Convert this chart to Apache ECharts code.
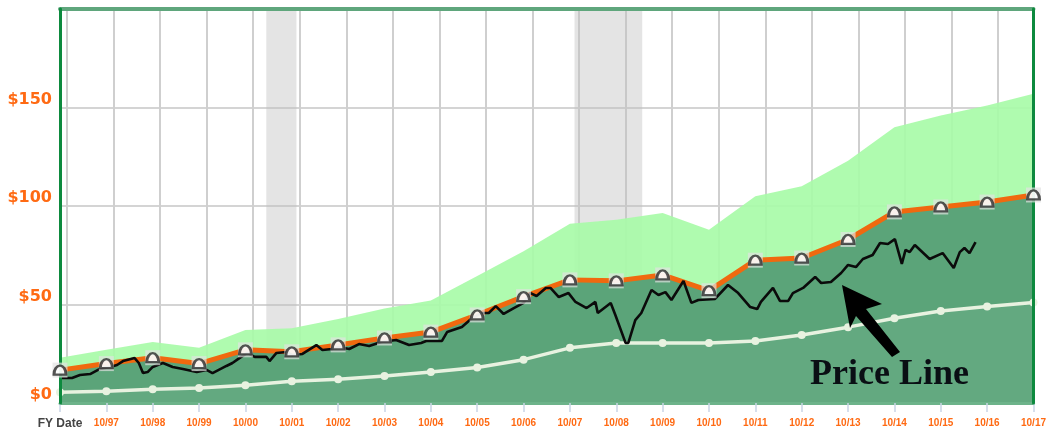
<!DOCTYPE html>
<html><head><meta charset="utf-8">
<style>html,body{margin:0;padding:0;background:#fff}#c{width:1049px;height:439px;filter:blur(0.5px)}</style>
<script src="https://cdn.jsdelivr.net/npm/echarts@6/dist/echarts.min.js"></script>
</head><body><div id="c"></div>
<script>
const tickLabels=['FY Date','10/97','10/98','10/99','10/00','10/01','10/02','10/03','10/04','10/05','10/06','10/07','10/08','10/09','10/10','10/11','10/12','10/13','10/14','10/15','10/16','10/17'];
const yearIndex=[0,1,2,3,4,5,6,7,8,9,10,11,12,13,14,15,16,17,18,19,20,21];
const upperBand=[23,27,31,28,37,38,42.6,48,52,64.5,77,91,93,96.5,88,105,110,123,140,146,151,157];
const fairValue=[16.7,20,23,20,27,26,29.5,33,36,44.7,54,62.5,62,65,57,72.5,73.6,83,97,99.5,102,105.6];
const lowerLine=[5.5,6,7,7.6,9,11,12,13.7,15.7,18,22,28,30.5,30.5,30.5,31.5,34.5,38.5,43,46.7,49,51];
const priceT=[0.04,0.26,0.43,0.65,0.86,1.08,1.23,1.36,1.61,1.70,1.79,1.89,2.00,2.22,2.43,2.65,2.95,3.16,3.29,3.59,3.72,3.87,4.04,4.20,4.45,4.52,4.67,4.88,5.01,5.23,5.53,5.66,5.87,6.02,6.24,6.45,6.67,6.93,7.25,7.53,7.79,7.90,8.24,8.35,8.67,8.89,9.10,9.25,9.40,9.57,9.79,10.0,10.15,10.28,10.48,10.58,10.76,10.97,11.12,11.36,11.55,11.60,11.88,11.98,12.20,12.26,12.41,12.54,12.76,12.91,13.06,13.19,13.45,13.62,13.77,14.13,14.41,14.63,14.89,15.04,15.12,15.38,15.53,15.71,15.81,16.03,16.29,16.42,16.63,16.85,17.00,17.17,17.32,17.53,17.69,17.86,18.01,18.16,18.24,18.33,18.44,18.76,19.04,19.28,19.41,19.51,19.62,19.75];
const priceV=[12.7,12.7,14.2,14.7,17.3,18.3,19.3,21.3,22.8,20.3,15.2,15.7,18.3,20.3,18.3,17.3,15.7,16.8,15.2,18.8,20.3,22.8,25.4,23.4,23.4,21.3,25.4,25.9,24.4,24.9,29.4,26.9,27.4,28.4,27.4,29.9,28.9,31.0,32.0,29.4,30.5,31.5,31.5,36.0,38.6,43.1,45.7,45.7,49.2,45.2,48.2,50.8,55.8,54.3,58.4,58.4,53.8,55.8,51.3,48.2,51.3,45.7,50.8,44.7,30.5,30.5,42.1,45.7,57.4,54.8,56.3,52.3,61.9,50.8,52.3,52.8,59.9,55.8,48.7,47.7,51.3,58.4,51.8,51.8,55.8,58.4,64.0,60.9,61.4,66.0,70.1,69.0,73.1,75.1,81.2,80.7,83.2,70.6,77.7,76.6,80.2,73.1,76.1,68.5,76.6,78.7,76.1,81.7];
const recessions=[[4.45,5.10],[11.1,12.56]];
const annotation='Price Line';
const zip=(a,b)=>a.map((v,i)=>[v,b[i]]);
const chart=echarts.init(document.getElementById('c'),null,{renderer:'canvas'});
const orange='#ff6a13',green='#0d8a3e';
const dome='path://M0 10 C0 4 3 0 6 0 C9 0 12 4 12 10 Z';
chart.setOption({
 animation:false,
 grid:[
  {left:60,right:13,top:9,bottom:36,show:true,backgroundColor:'#fff',borderWidth:0},
  {left:67,right:51,top:9,bottom:36}
 ],
 xAxis:[
  {type:'value',gridIndex:0,min:0,max:21,interval:1,position:'bottom',z:6,
   axisLine:{show:true,onZero:false,lineStyle:{color:'#6db38a',width:3}},
   axisTick:{show:true,length:9,lineStyle:{color:'#c9d5e6',width:1.5}},
   splitLine:{show:false},
   axisLabel:{margin:15,fontSize:10,fontFamily:'Liberation Sans',fontWeight:'bold',color:orange,hideOverlap:false,showMinLabel:true,showMaxLabel:true,
     formatter:v=>v===0?'{k|'+tickLabels[0]+'}':tickLabels[v],
     rich:{k:{color:'#444',fontSize:12,fontFamily:'Liberation Sans',fontWeight:'bold'}}}},
  {type:'value',gridIndex:0,min:0,max:21,interval:21,position:'top',z:6,
   axisLine:{show:true,onZero:false,lineStyle:{color:'#5fa67c',width:4}},axisTick:{show:false},axisLabel:{show:false},splitLine:{show:false}},
  {type:'value',gridIndex:1,min:0,max:20,interval:1,position:'bottom',
   axisLine:{show:false},axisTick:{show:false},axisLabel:{show:false},
   splitLine:{show:true,lineStyle:{color:'#cfcfcf',width:2}}}
 ],
 yAxis:[
  {type:'value',gridIndex:0,min:0,max:200,interval:50,position:'left',
   axisLine:{show:false},axisTick:{show:false},
   splitLine:{show:true,lineStyle:{color:'#d4d4d4',width:2}},
   axisLabel:{margin:8,fontSize:16,fontWeight:'bold',fontFamily:'DejaVu Sans',color:orange,verticalAlign:'bottom',padding:[0,0,0,0],
     formatter:v=>v>=200?'':'$'+v}},
  {type:'value',gridIndex:0,min:0,max:200,interval:200,position:'left',z:7,
   axisLine:{show:true,onZero:false,lineStyle:{color:green,width:3}},axisTick:{show:false},axisLabel:{show:false},splitLine:{show:false}},
  {type:'value',gridIndex:0,min:0,max:200,interval:200,position:'right',z:7,
   axisLine:{show:true,onZero:false,lineStyle:{color:green,width:3}},axisTick:{show:false},axisLabel:{show:false},splitLine:{show:false}},
  {type:'value',gridIndex:1,min:0,max:200,interval:200,axisLine:{show:false},axisTick:{show:false},axisLabel:{show:false},splitLine:{show:false}}
 ],
 series:[
  {name:'Recessions',type:'line',data:[],z:1,silent:true,
   markArea:{silent:true,itemStyle:{color:'rgba(190,190,190,0.42)'},data:recessions.map(r=>[{xAxis:r[0]},{xAxis:r[1]}])}},
  {name:'Upper',type:'line',data:zip(yearIndex,upperBand),z:2,symbol:'none',lineStyle:{width:0},
   areaStyle:{color:'#a8fba8',opacity:0.92}},
  {name:'Fair',type:'line',data:zip(yearIndex,fairValue),z:3,symbol:'none',lineStyle:{width:0},
   areaStyle:{color:'#559d75',opacity:0.93}},
  {name:'Lower',type:'line',data:zip(yearIndex,lowerLine),z:4,symbol:'circle',symbolSize:8,showSymbol:true,
   lineStyle:{color:'#e8f2e0',width:3.5},itemStyle:{color:'#e8f2e0'},
   areaStyle:{color:'#6db08a',opacity:0.45}},
  {name:'Fair line',type:'line',data:zip(yearIndex,fairValue),z:5,symbol:'none',lineStyle:{color:'#f0690f',width:5}},
  {name:'Price',type:'line',data:zip(priceT,priceV),z:6,symbol:'none',lineStyle:{color:'#0b0b0b',width:2.6}},
  {name:'Halo',type:'scatter',data:zip(yearIndex,fairValue),z:7,symbol:'rect',symbolSize:15,itemStyle:{color:'rgba(225,225,225,0.85)'}},
  {name:'Marks',type:'scatter',data:zip(yearIndex,fairValue),z:8,symbol:dome,symbolSize:[12,9],
   itemStyle:{color:'#fff',borderColor:'#2a2a2a',borderWidth:2.6}}
 ],
 graphic:[
  {type:'polygon',z:100,shape:{points:[[842,285],[882,304],[866,309],[900,352],[892,357],[856,316],[850,328]]},style:{fill:'#000'}},
  {type:'text',z:100,left:810,top:357,style:{text:annotation,fill:'#0a0f14',font:'bold 36px "Liberation Serif"'}}
 ]
});
</script></body></html>
